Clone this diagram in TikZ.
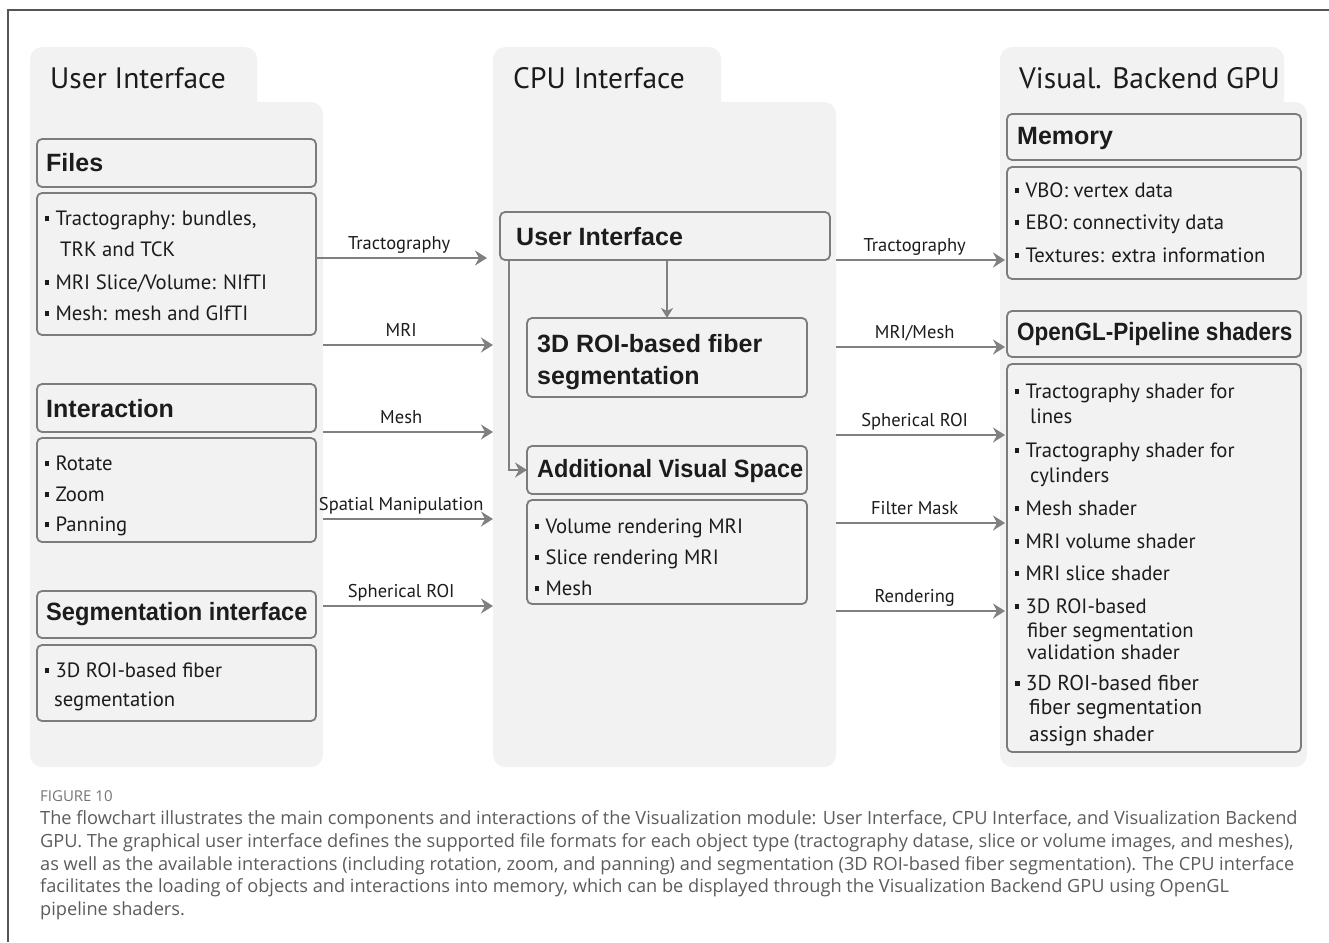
\documentclass[tikz,border=0pt]{standalone}
\usepackage{fontspec}
\usepackage{graphicx}
\usetikzlibrary{arrows.meta,calc}
\setmainfont{PT Sans}
\newfontfamily\hdrfam{Liberation Sans}
\newfontfamily\capfam{Open Sans}
\definecolor{panelgray}{HTML}{F2F2F2}
\definecolor{boxline}{HTML}{7C7C7C}
\definecolor{arrowgray}{HTML}{808080}
\definecolor{ink}{HTML}{1C1C1C}
\definecolor{capgray}{HTML}{5C5C5C}
\definecolor{framegray}{HTML}{555555}
\newcommand\bul{\rule[0.17em]{0.2em}{0.27em}\hspace{0.3em}}

\tikzset{
  panel/.style={fill=panelgray, draw=none, rounded corners=12pt, anchor=north west, inner sep=0, outer sep=0},
  box/.style={draw=boxline, line width=1.8pt, rounded corners=5pt, anchor=north west, inner sep=0, outer sep=0},
  hdr/.style={font=\hdrfam\bfseries\fontsize{25}{29}\selectfont, anchor=west, inner sep=0, text=ink},
  itm/.style={font=\fontsize{20.7}{24}\selectfont, anchor=base west, inner sep=0, text=ink},
  itmwide/.style={itm, font=\fontsize{21.5}{25}\selectfont},
  ttl/.style={font=\fontsize{29.5}{34}\selectfont, anchor=west, inner sep=0, text=ink},
  lab/.style={font=\fontsize{18.5}{22}\selectfont, text=ink, inner sep=0, anchor=base, yshift=9pt},
  arr/.style={draw=arrowgray, line width=2.4pt, -{Stealth[length=12pt,width=15pt,inset=4pt]}},
  smallarr/.style={draw=arrowgray, line width=2pt, -{Stealth[length=10pt,width=12pt,inset=3pt]}},
  captxt/.style={font=\capfam\fontsize{18.2}{22}\selectfont, text=capgray, anchor=base west, inner sep=0},
}

\begin{document}
\begin{tikzpicture}[x=1pt, y=-1pt]
\useasboundingbox (0,0) rectangle (1329,942);

% outer frame: top and left rules
\draw[framegray, line width=1.2pt] (1329,10) -- (8,10) -- (8,942);

% ---------- panels ----------
\node[panel, minimum width=227, minimum height=100] (ltab) at (30,47) {};
\node[panel, minimum width=293, minimum height=665] (lpanel) at (30,102) {};
\node[panel, minimum width=228, minimum height=100] (ctab) at (493,47) {};
\node[panel, minimum width=343, minimum height=665] (cpanel) at (493,102) {};
\node[panel, minimum width=284, minimum height=100] (rtab) at (1000,47) {};
\node[panel, minimum width=307, minimum height=665] (rpanel) at (1000,102) {};

\node[ttl] (ltitle) at (50,78) {User Interface};
\node[ttl] (ctitle) at (513,78) {CPU Interface};
\node[ttl] (rtitle) at (1019,78) {Visual. Backend GPU};

% ---------- user interface column ----------
\node[box, minimum width=279, minimum height=48] (fileshdr) at (37,139) {};
\node[box, minimum width=279, minimum height=142] (filesbody) at (37,193) {};
\node[box, minimum width=279, minimum height=48] (inthdr) at (37,384) {};
\node[box, minimum width=279, minimum height=104] (intbody) at (37,438) {};
\node[box, minimum width=279, minimum height=47] (seghdr) at (37,591) {};
\node[box, minimum width=279, minimum height=76] (segbody) at (37,645) {};

\node[hdr] (t-files) at (46,163) {Files};
\node[itm] (t-f1) at (45,225) {\bul Tractography: bundles,};
\node[itm] (t-f2) at (60,256) {TRK and TCK};
\node[itm] (t-f3) at (45,289) {\bul MRI Slice/Volume: NIfTI};
\node[itm] (t-f4) at (45,320) {\bul Mesh: mesh and GIfTI};

\node[hdr] (t-int) at (46,409) {Interaction};
\node[itm] (t-i1) at (45,470) {\bul Rotate};
\node[itm] (t-i2) at (45,501) {\bul Zoom};
\node[itm] (t-i3) at (45,531) {\bul Panning};

\node[hdr] (t-seg) at (46,614) {\scalebox{0.945}[1]{Segmentation interface}};
\node[itm] (t-s1) at (45,677) {\bul 3D ROI-based fiber};
\node[itm] (t-s2) at (54,706) {segmentation};

% ---------- CPU interface column ----------
\node[box, minimum width=330, minimum height=48] (uibox) at (500,212) {};
\node[box, minimum width=280, minimum height=79] (roibox) at (527,318) {};
\node[box, minimum width=280, minimum height=48] (avshdr) at (527,446) {};
\node[box, minimum width=280, minimum height=104] (avsbody) at (527,500) {};

\node[hdr] (t-ui) at (516,237) {User Interface};
\node[hdr, anchor=base west] (t-roi1) at (537,352) {3D ROI-based fiber};
\node[hdr, anchor=base west] (t-roi2) at (537,384) {segmentation};
\node[hdr] (t-avs) at (537,471) {\scalebox{0.94}[1]{Additional Visual Space}};
\node[itm] (t-a1) at (535,533) {\bul Volume rendering MRI};
\node[itm] (t-a2) at (535,564) {\bul Slice rendering MRI};
\node[itm] (t-a3) at (535,595) {\bul Mesh};

% ---------- GPU backend column ----------
\node[box, minimum width=294, minimum height=46] (memhdr) at (1007,114) {};
\node[box, minimum width=294, minimum height=112] (membody) at (1007,167) {};
\node[box, minimum width=294, minimum height=46] (glhdr) at (1007,311) {};
\node[box, minimum width=294, minimum height=388] (glbody) at (1007,364) {};

\node[hdr] (t-mem) at (1017,138) {Memory};
\node[itm] (t-m1) at (1015,197) {\bul VBO: vertex data};
\node[itm] (t-m2) at (1015,229) {\bul EBO: connectivity data};
\node[itm] (t-m3) at (1015,262) {\bul Textures: extra information};

\node[hdr] (t-gl) at (1017,334) {\scalebox{0.9}[1]{OpenGL-Pipeline shaders}};
\node[itm] (t-g1) at (1015,398) {\bul Tractography shader for};
\node[itm] (t-g1b) at (1030,423) {lines};
\node[itm] (t-g2) at (1015,457) {\bul Tractography shader for};
\node[itm] (t-g2b) at (1030,482) {cylinders};
\node[itm] (t-g3) at (1015,515) {\bul Mesh shader};
\node[itm] (t-g4) at (1015,548) {\bul MRI volume shader};
\node[itm] (t-g5) at (1015,580) {\bul MRI slice shader};
\node[itm] (t-g6) at (1015,613) {\bul 3D ROI-based};
\node[itm] (t-g6b) at (1027,637) {fiber segmentation};
\node[itm] (t-g6c) at (1027,659) {validation shader};
\node[itmwide] (t-g7) at (1015,690) {\bul 3D ROI-based fiber};
\node[itmwide] (t-g7b) at (1029,714) {fiber segmentation};
\node[itmwide] (t-g7c) at (1029,741) {assign shader};

% ---------- connectors: user interface -> CPU interface ----------
\draw[arr, shorten >=6pt] (filesbody.east |- 0,258) -- node[lab, pos=0.47] {Tractography} (cpanel.west |- 0,258);
\draw[arr] (lpanel.east |- 0,345) -- node[lab, pos=0.46] {MRI} (cpanel.west |- 0,345);
\draw[arr] (lpanel.east |- 0,432) -- node[lab, pos=0.46] {Mesh} (cpanel.west |- 0,432);
\draw[arr] (lpanel.east |- 0,519) -- node[lab, pos=0.46] {Spatial Manipulation} (cpanel.west |- 0,519);
\draw[arr] (lpanel.east |- 0,606) -- node[lab, pos=0.46] {Spherical ROI} (cpanel.west |- 0,606);

% ---------- connectors inside the CPU interface ----------
\draw[smallarr] (uibox.south -| roibox.north) -- (roibox.north);
\draw[arr] ($(uibox.south west)+(9,0)$) |- (avshdr.west);

% ---------- connectors: CPU interface -> GPU backend ----------
\draw[arr, shorten >=2pt] (cpanel.east |- 0,260) -- node[lab, pos=0.46] {Tractography} (membody.west |- 0,260);
\draw[arr, shorten >=2pt] (cpanel.east |- 0,347) -- node[lab, pos=0.46] {MRI/Mesh} (glhdr.west |- 0,347);
\draw[arr, shorten >=2pt] (cpanel.east |- 0,435) -- node[lab, pos=0.46] {Spherical ROI} (glbody.west |- 0,435);
\draw[arr, shorten >=2pt] (cpanel.east |- 0,523) -- node[lab, pos=0.46] {Filter Mask} (glbody.west |- 0,523);
\draw[arr, shorten >=2pt] (cpanel.east |- 0,611) -- node[lab, pos=0.46] {Rendering} (glbody.west |- 0,611);

% ---------- caption ----------
\node[captxt, font=\capfam\fontsize{15}{18}\selectfont, text=capgray!85] (figno) at (40,801) {FIGURE 10};
\node[captxt] (c1) at (40,824) {The flowchart illustrates the main components and interactions of the Visualization module: User Interface, CPU Interface, and Visualization Backend};
\node[captxt] (c2) at (40,847) {GPU. The graphical user interface defines the supported file formats for each object type (tractography datase, slice or volume images, and meshes),};
\node[captxt] (c3) at (40,870) {as well as the available interactions (including rotation, zoom, and panning) and segmentation (3D ROI-based fiber segmentation). The CPU interface};
\node[captxt] (c4) at (40,892) {facilitates the loading of objects and interactions into memory, which can be displayed through the Visualization Backend GPU using OpenGL};
\node[captxt] (c5) at (40,915) {pipeline shaders.};
\end{tikzpicture}
\end{document}
